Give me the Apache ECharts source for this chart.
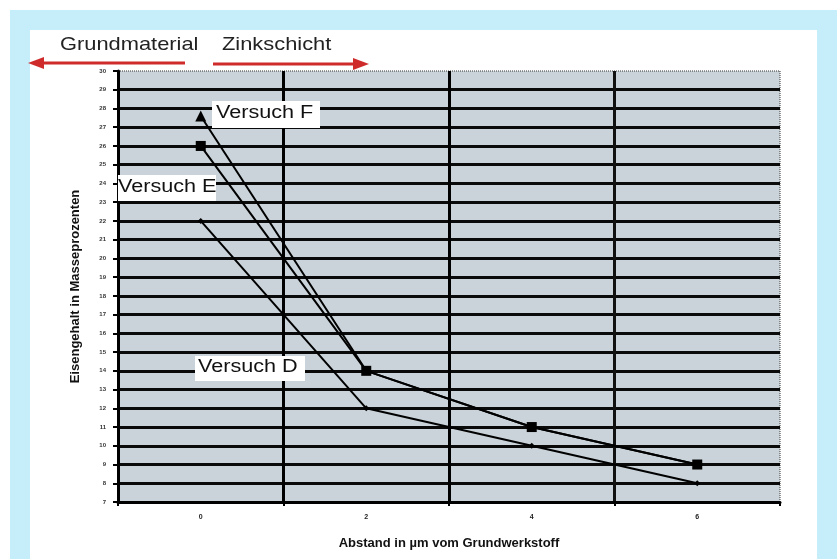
<!DOCTYPE html>
<html><head><meta charset="utf-8">
<script src="https://cdn.jsdelivr.net/npm/echarts@6/dist/echarts.min.js"></script>
<style>html,body{margin:0;padding:0;background:#fff}#c{width:837px;height:559px}</style>
</head><body><div id="c"></div>
<script>
var categories = ['0', '2', '4', '6'];
var versuchD = [22, 12, 10, 8];
var versuchE = [26, 14, 11, 9];
var versuchF = [27.6, 14, 11, 9];
var yMin = 7, yMax = 30;

var ySplitColors = [];
for (var i = yMin; i <= yMax; i++) ySplitColors.push(i === yMax ? 'rgba(0,0,0,0)' : '#0a0a0a');

var chart = echarts.init(document.getElementById('c'));
chart.setOption({
  backgroundColor: '#fff',
  animation: false,
  grid: { left: 118, right: 57, top: 71, bottom: 57, show: true, backgroundColor: '#c9d3d9',
          borderColor: '#333', borderWidth: 1, borderType: 'dotted' },
  xAxis: {
    type: 'category', data: categories, boundaryGap: true,
    name: 'Abstand in µm vom Grundwerkstoff', nameLocation: 'middle', nameGap: 35,
    nameTextStyle: { fontFamily: 'Liberation Sans', fontWeight: 'bold', fontSize: 13, color: '#111' },
    axisLine: { lineStyle: { color: '#000', width: 3 } },
    axisTick: { show: true, length: 4, lineStyle: { color: '#000', width: 2 } },
    axisLabel: { fontFamily: 'Liberation Sans', fontWeight: 'bold', fontSize: 7, color: '#222', margin: 12 },
    splitLine: { show: true, lineStyle: { color: ['#000', '#000', '#000', '#111', 'rgba(0,0,0,0)'], width: 3 } }
  },
  yAxis: {
    type: 'value', min: yMin, max: yMax, interval: 1,
    name: 'Eisengehalt in Masseprozenten', nameLocation: 'middle', nameGap: 36,
    nameTextStyle: { fontFamily: 'Liberation Sans', fontWeight: 'bold', fontSize: 13, color: '#111' },
    axisLine: { show: true, lineStyle: { color: '#000', width: 3 } },
    axisTick: { show: true, length: 5, lineStyle: { color: '#000', width: 2 } },
    axisLabel: { fontFamily: 'Liberation Sans', fontWeight: 'bold', fontSize: 6, color: '#333', margin: 12 },
    splitLine: { show: true, lineStyle: { color: ySplitColors, width: 3 } }
  },
  series: [
    { name: 'Versuch F', type: 'line', data: versuchF, symbol: 'triangle',
      symbolSize: function (v, p) { return p.dataIndex === 0 ? 11 : 0; },
      lineStyle: { color: '#000', width: 2 }, itemStyle: { color: '#000' }, z: 3 },
    { name: 'Versuch E', type: 'line', data: versuchE, symbol: 'rect', symbolSize: 10,
      lineStyle: { color: '#000', width: 2 }, itemStyle: { color: '#000' }, z: 4 },
    { name: 'Versuch D', type: 'line', data: versuchD, symbol: 'diamond', symbolSize: 6,
      lineStyle: { color: '#000', width: 2 }, itemStyle: { color: '#000' }, z: 4 }
  ],
  graphic: [
    { type: 'rect', shape: { x: 10, y: 10, width: 827, height: 20 }, style: { fill: '#c6eefa' }, silent: true },
    { type: 'rect', shape: { x: 10, y: 10, width: 20, height: 549 }, style: { fill: '#c6eefa' }, silent: true },
    { type: 'rect', shape: { x: 817, y: 10, width: 20, height: 549 }, style: { fill: '#c6eefa' }, silent: true },
    { type: 'text', x: 60, y: 35, scaleX: 1.15, style: { text: 'Grundmaterial', font: '19px "Liberation Sans", Arial', fill: '#222' } },
    { type: 'text', x: 222, y: 35, scaleX: 1.15, style: { text: 'Zinkschicht', font: '19px "Liberation Sans", Arial', fill: '#222' } },
    { type: 'line', shape: { x1: 185, y1: 63, x2: 40, y2: 63 }, style: { stroke: '#cf2b2b', lineWidth: 3 } },
    { type: 'polygon', shape: { points: [[28, 63], [44, 57], [44, 69]] }, style: { fill: '#cf2b2b' } },
    { type: 'line', shape: { x1: 213, y1: 64, x2: 356, y2: 64 }, style: { stroke: '#cf2b2b', lineWidth: 3 } },
    { type: 'polygon', shape: { points: [[369, 64], [353, 58], [353, 70]] }, style: { fill: '#cf2b2b' } },
    { type: 'rect', shape: { x: 212, y: 101, width: 108, height: 27 }, style: { fill: '#fff' }, z: 10 },
    { type: 'text', x: 216, y: 104, scaleX: 1.2, z: 11, style: { text: 'Versuch F', font: '18px "Liberation Sans", Arial', fill: '#111' } },
    { type: 'rect', shape: { x: 118, y: 175, width: 98, height: 26 }, style: { fill: '#fff' }, z: 10 },
    { type: 'text', x: 118, y: 178, scaleX: 1.2, z: 11, style: { text: 'Versuch E', font: '18px "Liberation Sans", Arial', fill: '#111' } },
    { type: 'rect', shape: { x: 195, y: 356, width: 110, height: 25 }, style: { fill: '#fff' }, z: 10 },
    { type: 'text', x: 198, y: 358, scaleX: 1.2, z: 11, style: { text: 'Versuch D', font: '18px "Liberation Sans", Arial', fill: '#111' } }
  ]
});
</script>
</body></html>
